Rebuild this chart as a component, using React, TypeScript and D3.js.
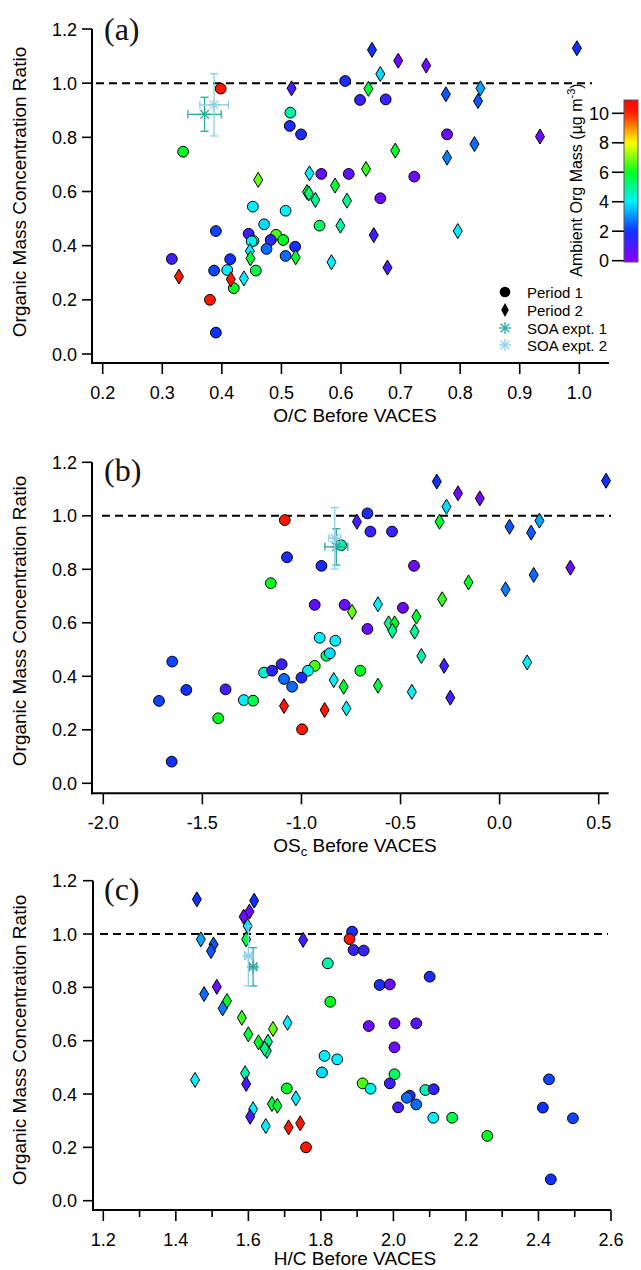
import React, { useEffect, useRef } from "react";
import * as d3 from "d3";

// [x value, mass concentration ratio, ambient org mass (ug m-3)]
type Pt = [number, number, number];
// [x, y, x error, y error]
type Soa = [number, number, number, number];

// ---- panel (a): O/C ----
const ocPeriod1: Pt[] = [
  [0.398, 0.98, 10.3], [0.515, 0.891, 4.8], [0.514, 0.842, 1.8], [0.533, 0.811, 1.8],
  [0.335, 0.747, 6.0], [0.567, 0.665, 0.6], [0.452, 0.544, 4.0], [0.507, 0.529, 4.0],
  [0.471, 0.479, 3.8], [0.564, 0.474, 5.4], [0.39, 0.454, 2.2], [0.445, 0.444, 1.3],
  [0.453, 0.418, 4.6], [0.45, 0.416, 4.2], [0.491, 0.44, 6.6], [0.503, 0.421, 6.0],
  [0.482, 0.421, 1.5], [0.475, 0.388, 2.6], [0.523, 0.396, 1.8], [0.507, 0.362, 2.6],
  [0.316, 0.351, 1.2], [0.414, 0.35, 2.0], [0.409, 0.31, 4.0], [0.387, 0.308, 2.2],
  [0.457, 0.308, 5.6], [0.42, 0.243, 6.0], [0.38, 0.2, 10.3], [0.39, 0.079, 2.0],
  [0.607, 1.008, 1.8], [0.632, 0.938, 1.4], [0.675, 0.94, 1.4], [0.778, 0.811, 0.5],
  [0.613, 0.665, 0.7], [0.723, 0.655, 0.5], [0.666, 0.575, 0.5],
];
const ocPeriod2: Pt[] = [
  [0.517, 0.981, 1.2], [0.547, 0.667, 4.0], [0.461, 0.643, 6.8], [0.543, 0.598, 6.0],
  [0.546, 0.593, 5.2], [0.557, 0.569, 5.0], [0.524, 0.357, 5.8], [0.447, 0.38, 4.0],
  [0.448, 0.353, 5.8], [0.437, 0.279, 4.0], [0.328, 0.286, 10.3], [0.415, 0.276, 10.3],
  [0.652, 1.123, 2.0], [0.996, 1.129, 2.0], [0.696, 1.083, 0.5], [0.743, 1.065, 0.5],
  [0.666, 1.034, 3.8], [0.646, 0.979, 5.8], [0.776, 0.959, 2.4], [0.834, 0.981, 3.2],
  [0.83, 0.934, 2.4], [0.824, 0.775, 2.6], [0.934, 0.803, 0.5], [0.778, 0.725, 2.8],
  [0.691, 0.751, 6.0], [0.642, 0.683, 6.4], [0.59, 0.622, 5.8], [0.61, 0.566, 5.0],
  [0.599, 0.474, 4.8], [0.655, 0.439, 1.2], [0.796, 0.454, 4.0], [0.584, 0.339, 4.0],
  [0.678, 0.319, 1.2],
];
const ocSoa1: Soa = [0.371, 0.885, 0.028, 0.063];
const ocSoa2: Soa = [0.387, 0.92, 0.024, 0.115];

// ---- panel (b): OSc ----
const oscPeriod1: Pt[] = [
  [-1.084, 0.984, 10.3], [-1.073, 0.845, 1.8], [-0.899, 0.813, 1.8], [-1.155, 0.748, 6.0],
  [-0.933, 0.667, 0.7], [-0.908, 0.544, 4.0], [-1.652, 0.455, 2.2], [-1.1, 0.445, 1.3],
  [-1.189, 0.414, 4.4], [-1.148, 0.421, 1.5], [-0.933, 0.439, 6.6], [-0.967, 0.421, 4.2],
  [-1.088, 0.39, 2.6], [-1.0, 0.395, 1.8], [-1.047, 0.361, 2.6], [-1.719, 0.308, 2.2],
  [-1.581, 0.349, 2.0], [-1.383, 0.351, 1.2], [-1.291, 0.311, 4.0], [-1.244, 0.309, 5.6],
  [-1.42, 0.243, 6.0], [-0.997, 0.202, 10.3], [-1.655, 0.081, 2.0], [-0.667, 1.009, 1.8],
  [-0.652, 0.941, 1.4], [-0.543, 0.941, 1.4], [-0.8, 0.89, 4.8], [-0.432, 0.813, 0.5],
  [-0.782, 0.667, 0.5], [-0.488, 0.656, 0.5], [-0.667, 0.577, 0.5], [-0.829, 0.533, 4.0],
  [-0.874, 0.477, 5.4], [-0.857, 0.486, 3.8], [-0.703, 0.421, 6.0],
];
const oscPeriod2: Pt[] = [
  [-0.317, 1.128, 2.0], [0.537, 1.131, 2.0], [-0.21, 1.084, 0.5], [-0.1, 1.065, 0.5],
  [-0.268, 1.034, 3.8], [-0.72, 0.978, 1.2], [-0.303, 0.978, 5.8], [0.05, 0.959, 2.4],
  [0.159, 0.937, 2.4], [0.201, 0.982, 3.2], [-0.157, 0.751, 6.0], [0.03, 0.725, 2.8],
  [0.172, 0.779, 2.6], [0.357, 0.806, 0.5], [-0.29, 0.688, 6.4], [-0.745, 0.641, 6.8],
  [-0.614, 0.669, 4.0], [-0.42, 0.623, 5.8], [-0.56, 0.598, 5.0], [-0.53, 0.598, 6.0],
  [-0.541, 0.57, 5.0], [-0.429, 0.567, 5.0], [-0.395, 0.476, 4.8], [-0.28, 0.439, 1.2],
  [0.139, 0.452, 4.0], [-0.837, 0.386, 4.0], [-0.787, 0.361, 5.8], [-0.614, 0.365, 5.8],
  [-0.443, 0.342, 4.0], [-0.249, 0.32, 1.2], [-1.088, 0.289, 10.3], [-0.883, 0.274, 10.3],
  [-0.773, 0.28, 4.0],
];
const oscSoa1: Soa = [-0.824, 0.884, 0.058, 0.068];
const oscSoa2: Soa = [-0.832, 0.916, 0.03, 0.115];

// ---- panel (c): H/C ----
const hcPeriod1: Pt[] = [
  [1.886, 1.009, 1.8], [1.879, 0.981, 10.3], [1.89, 0.94, 1.4], [1.918, 0.938, 1.4],
  [1.819, 0.89, 4.8], [2.1, 0.84, 1.8], [1.962, 0.809, 1.8], [1.99, 0.811, 0.5],
  [1.826, 0.746, 6.0], [1.932, 0.655, 0.5], [2.003, 0.665, 0.5], [2.063, 0.665, 0.9],
  [2.003, 0.575, 0.5], [1.81, 0.543, 4.0], [1.845, 0.53, 4.0], [1.803, 0.481, 3.8],
  [2.003, 0.474, 5.4], [1.915, 0.44, 6.6], [1.937, 0.42, 4.2], [1.99, 0.44, 1.3],
  [2.088, 0.415, 4.6], [2.111, 0.418, 1.5], [2.045, 0.394, 1.8], [2.037, 0.386, 2.6],
  [2.063, 0.361, 2.6], [2.013, 0.35, 1.2], [2.11, 0.311, 4.0], [2.162, 0.311, 5.6],
  [2.259, 0.243, 6.0], [2.429, 0.455, 2.2], [2.412, 0.349, 2.0], [2.495, 0.309, 2.2],
  [2.434, 0.08, 2.0], [1.759, 0.2, 10.3], [1.706, 0.421, 6.0],
];
const hcPeriod2: Pt[] = [
  [1.458, 1.13, 2.0], [1.587, 1.065, 0.5], [1.603, 1.084, 0.5], [1.616, 1.125, 2.0],
  [1.598, 1.03, 3.8], [1.469, 0.98, 3.2], [1.594, 0.98, 5.8], [1.504, 0.961, 2.4],
  [1.497, 0.936, 2.4], [1.751, 0.978, 1.2], [1.513, 0.802, 0.5], [1.478, 0.775, 2.6],
  [1.541, 0.749, 6.0], [1.529, 0.721, 2.8], [1.582, 0.686, 6.4], [1.708, 0.667, 4.0],
  [1.668, 0.644, 6.8], [1.6, 0.624, 5.8], [1.628, 0.594, 6.0], [1.654, 0.596, 5.0],
  [1.651, 0.562, 5.0], [1.645, 0.57, 5.0], [1.453, 0.453, 4.0], [1.591, 0.478, 4.8],
  [1.594, 0.438, 1.2], [1.731, 0.384, 4.0], [1.665, 0.363, 5.8], [1.68, 0.356, 5.8],
  [1.613, 0.343, 4.0], [1.605, 0.315, 1.2], [1.648, 0.28, 4.0], [1.711, 0.275, 10.3],
  [1.743, 0.29, 10.3],
];
const hcSoa1: Soa = [1.613, 0.877, 0.01, 0.072];
const hcSoa2: Soa = [1.6, 0.918, 0.01, 0.112];

const ratioTicks = [0, 0.2, 0.4, 0.6, 0.8, 1.0, 1.2];
const ocTicks = [0.2, 0.3, 0.4, 0.5, 0.6, 0.7, 0.8, 0.9, 1.0];
const oscTicks = [-2.0, -1.5, -1.0, -0.5, 0.0, 0.5];
const hcTicks = [1.2, 1.4, 1.6, 1.8, 2.0, 2.2, 2.4, 2.6];
const hcMinorTicks = [1.3, 1.5, 1.7, 1.9, 2.1, 2.3, 2.5];
const massTicks = [0, 2, 4, 6, 8, 10];
const massStops = [0, 2, 4, 6, 8, 10, 11];
const massColors = ["#8a00ff", "#1030ff", "#00f0ff", "#00ff20", "#ffff00", "#ff2000", "#ff0000"];
const legendLabels = ["Period 1", "Period 2", "SOA expt. 1", "SOA expt. 2"];
const soaColors = ["#2ea89c", "#8ccfe8"];

const SANS = "Arial, 'Liberation Sans', sans-serif";
const SERIF = "'Times New Roman', 'Liberation Serif', serif";

const App = () => {
  const ref = useRef<SVGSVGElement>(null);

  useEffect(() => {
    const svg = d3.select(ref.current);
    svg.selectAll("*").remove();

    const color = d3.scaleLinear<string>().domain(massStops).range(massColors).clamp(true);

    const panels = [
      {
        label: "(a)", title: ["O/C Before VACES"], p1: ocPeriod1, p2: ocPeriod2, soa: [ocSoa1, ocSoa2],
        xDomain: [0.2, 1.0], xRange: [102.7, 579.3], yRange: [354, 29],
        left: 92, right: 609, top: 29, bottom: 363, ticks: ocTicks, minor: [] as number[],
        dash: [96, 592], labelY: 40, yTitleY: 192, xTitleY: 422,
      },
      {
        label: "(b)", title: ["OS", "c", " Before VACES"], p1: oscPeriod1, p2: oscPeriod2, soa: [oscSoa1, oscSoa2],
        xDomain: [-2, 0.5], xRange: [103.3, 598.7], yRange: [783.3, 462.3],
        left: 92, right: 608.7, top: 462.3, bottom: 793.3, ticks: oscTicks, minor: [] as number[],
        dash: [102, 611], labelY: 481, yTitleY: 621, xTitleY: 852,
      },
      {
        label: "(c)", title: ["H/C Before VACES"], p1: hcPeriod1, p2: hcPeriod2, soa: [hcSoa1, hcSoa2],
        xDomain: [1.2, 2.6], xRange: [103.3, 611], yRange: [1200.7, 880.7],
        left: 93, right: 611, top: 880.7, bottom: 1210, ticks: hcTicks, minor: hcMinorTicks,
        dash: [100, 608], labelY: 900, yTitleY: 1040, xTitleY: 1265,
      },
    ];

    const drawStar = (g: any, cx: number, cy: number, c: string, r = 6) => {
      const d = r * 0.72;
      const segs = [[-r, 0, r, 0], [0, -r, 0, r], [-d, -d, d, d], [-d, d, d, -d]];
      g.selectAll(null).data(segs).join("line")
        .attr("x1", (s: number[]) => cx + s[0]).attr("y1", (s: number[]) => cy + s[1])
        .attr("x2", (s: number[]) => cx + s[2]).attr("y2", (s: number[]) => cy + s[3])
        .attr("stroke", c).attr("stroke-width", 1.3);
    };

    const diamond = (x: number, y: number, w = 4.5, h = 7.5) =>
      `M${x},${y - h}L${x + w},${y}L${x},${y + h}L${x - w},${y}Z`;

    panels.forEach((p) => {
      const x = d3.scaleLinear().domain(p.xDomain).range(p.xRange);
      const y = d3.scaleLinear().domain([0, 1.2]).range(p.yRange);
      const g = svg.append("g");

      // axes
      g.append("line").attr("x1", p.left).attr("x2", p.left).attr("y1", p.top).attr("y2", p.bottom + 1)
        .attr("stroke", "#000").attr("stroke-width", 2);
      g.append("line").attr("x1", p.left - 1).attr("x2", p.right).attr("y1", p.bottom).attr("y2", p.bottom)
        .attr("stroke", "#000").attr("stroke-width", 2);

      g.selectAll(null).data(ratioTicks).join("line")
        .attr("x1", p.left - 10).attr("x2", p.left).attr("y1", (d) => y(d)).attr("y2", (d) => y(d))
        .attr("stroke", "#000").attr("stroke-width", 1.6);
      g.selectAll(null).data(ratioTicks).join("text")
        .attr("x", 77).attr("y", (d) => y(d) + 6.5).attr("text-anchor", "end")
        .attr("font-family", SANS).attr("font-size", 18).text((d) => d3.format(".1f")(d));

      g.selectAll(null).data(p.ticks).join("line")
        .attr("x1", (d) => x(d)).attr("x2", (d) => x(d)).attr("y1", p.bottom).attr("y2", p.bottom + 11)
        .attr("stroke", "#000").attr("stroke-width", 1.6);
      g.selectAll(null).data(p.minor).join("line")
        .attr("x1", (d) => x(d)).attr("x2", (d) => x(d)).attr("y1", p.bottom).attr("y2", p.bottom + 7)
        .attr("stroke", "#000").attr("stroke-width", 1.6);
      g.selectAll(null).data(p.ticks).join("text")
        .attr("x", (d) => x(d)).attr("y", p.bottom + 36).attr("text-anchor", "middle")
        .attr("font-family", SANS).attr("font-size", 18).text((d) => d3.format(".1f")(d).replace("−", "-"));

      // axis titles
      const xt = g.append("text").attr("x", 355).attr("y", p.xTitleY).attr("text-anchor", "middle")
        .attr("font-family", SANS).attr("font-size", 19);
      if (p.title.length === 1) xt.text(p.title[0]);
      else {
        xt.append("tspan").text(p.title[0]);
        xt.append("tspan").attr("font-size", 13).attr("dy", 4).text(p.title[1]);
        xt.append("tspan").attr("dy", -4).text(p.title[2]);
      }
      g.append("text").attr("transform", `translate(26,${p.yTitleY}) rotate(-90)`)
        .attr("text-anchor", "middle").attr("font-family", SANS).attr("font-size", 19)
        .text("Organic Mass Concentration Ratio");

      g.append("text").attr("x", 104).attr("y", p.labelY).attr("font-family", SERIF)
        .attr("font-size", 32).attr("fill", "#111").text(p.label);

      // ratio = 1 reference
      g.append("line").attr("x1", p.dash[0]).attr("x2", p.dash[1]).attr("y1", y(1)).attr("y2", y(1))
        .attr("stroke", "#000").attr("stroke-width", 2).attr("stroke-dasharray", "8,5");

      // period 1 circles
      g.selectAll(null).data(p.p1).join("circle")
        .attr("cx", (d) => x(d[0])).attr("cy", (d) => y(d[1])).attr("r", 5.4)
        .attr("fill", (d) => color(d[2])).attr("stroke", "#000").attr("stroke-width", 1);
      // period 2 diamonds
      g.selectAll(null).data(p.p2).join("path")
        .attr("d", (d) => diamond(x(d[0]), y(d[1])))
        .attr("fill", (d) => color(d[2])).attr("stroke", "#000").attr("stroke-width", 1);

      // SOA experiments with error bars
      p.soa.forEach((s, i) => {
        const c = soaColors[i];
        const cx = x(s[0]);
        const cy = y(s[1]);
        const x0 = x(s[0] - s[2]);
        const x1 = x(s[0] + s[2]);
        const y0 = y(s[1] - s[3]);
        const y1 = y(s[1] + s[3]);
        const eg = g.append("g").attr("stroke", c).attr("stroke-width", 1.3);
        eg.append("line").attr("x1", x0).attr("x2", x1).attr("y1", cy).attr("y2", cy);
        eg.append("line").attr("x1", x0).attr("x2", x0).attr("y1", cy - 4).attr("y2", cy + 4);
        eg.append("line").attr("x1", x1).attr("x2", x1).attr("y1", cy - 4).attr("y2", cy + 4);
        eg.append("line").attr("x1", cx).attr("x2", cx).attr("y1", y0).attr("y2", y1);
        eg.append("line").attr("x1", cx - 4).attr("x2", cx + 4).attr("y1", y0).attr("y2", y0);
        eg.append("line").attr("x1", cx - 4).attr("x2", cx + 4).attr("y1", y1).attr("y2", y1);
        drawStar(g, cx, cy, c);
      });
    });

    // colour bar
    const cb = svg.append("g");
    const my = d3.scaleLinear().domain([0, 10]).range([260.7, 113.3]);
    const topV = my.invert(100);
    const botV = my.invert(262);
    const grad = svg.append("defs").append("linearGradient").attr("id", "massGrad")
      .attr("x1", 0).attr("x2", 0).attr("y1", 1).attr("y2", 0);
    d3.range(0, 41).forEach((k) => {
      const v = botV + ((topV - botV) * k) / 40;
      grad.append("stop").attr("offset", k / 40).attr("stop-color", color(v));
    });
    cb.append("rect").attr("x", 624).attr("y", 100).attr("width", 14).attr("height", 162)
      .attr("fill", "url(#massGrad)").attr("stroke", "#555").attr("stroke-width", 1);
    cb.selectAll(null).data(massTicks).join("line")
      .attr("x1", 612).attr("x2", 624).attr("y1", (d) => my(d)).attr("y2", (d) => my(d))
      .attr("stroke", "#000").attr("stroke-width", 1.6);
    cb.selectAll(null).data(massTicks).join("text")
      .attr("x", 609).attr("y", (d) => my(d) + 6.5).attr("text-anchor", "end")
      .attr("font-family", SANS).attr("font-size", 18).text((d) => d);
    const ct = cb.append("text").attr("transform", "translate(582,180) rotate(-90)")
      .attr("text-anchor", "middle").attr("font-family", SANS).attr("font-size", 16);
    ct.append("tspan").text("Ambient Org Mass (µg m");
    ct.append("tspan").attr("font-size", 11).attr("dy", -7).text("-3");
    ct.append("tspan").attr("dy", 7).text(")");

    // legend
    const lg = svg.append("g");
    const ly = [292, 310, 328, 345];
    lg.append("circle").attr("cx", 505).attr("cy", ly[0]).attr("r", 5.3).attr("fill", "#000");
    lg.append("path").attr("d", diamond(505, ly[1], 3.8, 7)).attr("fill", "#000");
    drawStar(lg, 505, ly[2], soaColors[0]);
    drawStar(lg, 505, ly[3], soaColors[1]);
    lg.selectAll(null).data(legendLabels).join("text")
      .attr("x", 527).attr("y", (d, i) => ly[i] + 5.5)
      .attr("font-family", SANS).attr("font-size", 15).text((d) => d);
  }, []);

  return (
    <svg
      ref={ref}
      width={641}
      height={1270}
      style={{ position: "absolute", left: 0, top: 0, background: "#fff", display: "block" }}
    />
  );
};

export default App;
